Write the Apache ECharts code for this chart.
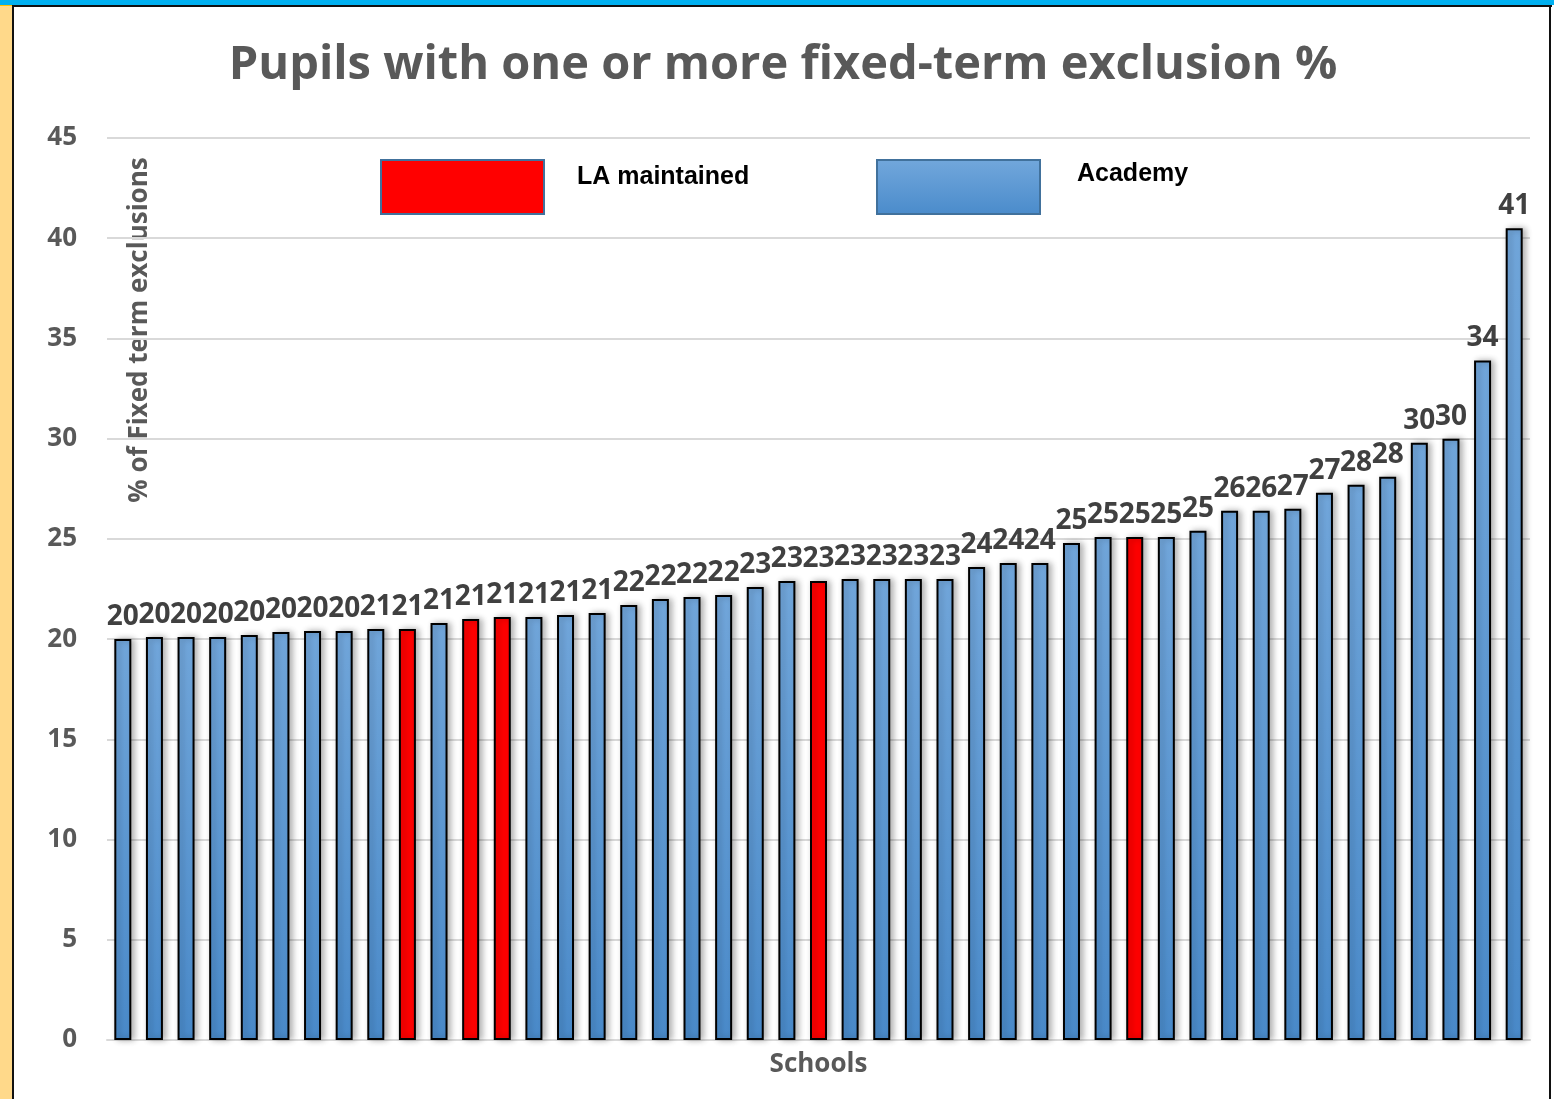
<!DOCTYPE html>
<html>
<head>
<meta charset="utf-8">
<style>
html,body{margin:0;padding:0;background:#fff;}
#chart{width:1554px;height:1099px;}
</style>
<script src="https://cdn.jsdelivr.net/npm/echarts@6/dist/echarts.min.js"></script>
</head>
<body>
<div id="chart"></div>
<script>
// Schools (ordered), values (%), and school type
const schools = Array.from({length:45}, (_, i) => 'School ' + (i + 1));
const values = [20.0,20.1,20.1,20.1,20.2,20.35,20.4,20.4,20.5,20.5,
                20.8,21.0,21.1,21.1,21.2,21.3,21.7,22.0,22.1,22.2,
                22.6,22.9,22.9,23.0,23.0,23.0,23.0,23.6,23.8,23.8,
                24.8,25.1,25.1,25.1,25.4,26.4,26.4,26.5,27.3,27.7,
                28.1,29.8,30.0,33.9,40.5];
// 'L' = LA maintained, 'A' = Academy
const types = ['A','A','A','A','A','A','A','A','A','L',
               'A','L','L','A','A','A','A','A','A','A',
               'A','A','L','A','A','A','A','A','A','A',
               'A','A','L','A','A','A','A','A','A','A',
               'A','A','A','A','A'];
const yTicks = [0,5,10,15,20,25,30,35,40,45];

const laData = values.map((v, i) => types[i] === 'L' ? v : '-');
const acData = values.map((v, i) => types[i] === 'A' ? v : '-');

const FONT = '"Open Sans", Lato, sans-serif';
const LEGFONT = '"Liberation Sans Narrow", "Liberation Sans", sans-serif';

const labelCfg = {
  show: true, position: 'top', distance: 8,
  color: '#404040', fontFamily: FONT, fontWeight: 'bold', fontSize: 28,
  formatter: p => Math.round(p.value)
};
const shadow = {shadowColor:'rgba(0,0,0,0.3)', shadowBlur:6, shadowOffsetX:3, shadowOffsetY:0};

function legendCfg(name, left, padBottom, padLeft) {
  return {
    data: [name], left: left, top: 159, padding: 0,
    itemWidth: 163, itemHeight: 54, icon: 'rect',
    itemStyle: {borderColor:'#41719C', borderWidth:2},
    formatter: '{t|{name}}',
    textStyle: {
      rich: {t: {color:'#000', fontFamily: LEGFONT, fontWeight:'bold', fontSize: 25,
                 padding:[0,0,padBottom,padLeft]}}
    }
  };
}

const chart = echarts.init(document.getElementById('chart'));
chart.setOption({
  backgroundColor: '#ffffff',
  animation: false,
  title: {
    text: 'Pupils with one or more fixed-term exclusion %',
    left: 778, top: 37, textAlign: 'center',
    textStyle: {color:'#595959', fontFamily: FONT, fontWeight:'bold', fontSize: 47}
  },
  legend: [
    legendCfg('LA maintained', 380, 20, 28),
    legendCfg('Academy', 876, 26, 32)
  ],
  grid: {left: 107, right: 24, top: 138, bottom: 59, containLabel: false},
  xAxis: {
    type: 'category', data: schools,
    name: 'Schools', nameLocation: 'middle', nameGap: 12,
    nameTextStyle: {color:'#595959', fontFamily: FONT, fontWeight:'bold', fontSize: 26},
    axisLine: {show: true, lineStyle: {color:'#d9d9d9', width: 2}},
    axisTick: {show: false},
    axisLabel: {show: false}
  },
  yAxis: {
    type: 'value', min: 0, max: 45, interval: 5,
    axisLine: {show: false}, axisTick: {show: false},
    axisLabel: {
      color:'#595959', fontFamily: FONT, fontWeight:'bold', fontSize: 26, margin: 30,
      formatter: v => yTicks.includes(v) ? String(v) : ''
    },
    splitLine: {lineStyle: {color:'#d9d9d9', width: 2}}
  },
  series: [
    {
      name: 'LA maintained', type: 'bar', stack: 'all', data: laData, barWidth: 17,
      itemStyle: Object.assign({color:'#FF0000', borderColor:'#000', borderWidth:2}, shadow),
      label: labelCfg
    },
    {
      name: 'Academy', type: 'bar', stack: 'all', data: acData, barWidth: 17,
      itemStyle: Object.assign({
        color: {type:'linear', x:0, y:0, x2:0, y2:1, colorStops:[
          {offset:0, color:'#72A7DC'}, {offset:1, color:'#4A8BCB'}]},
        borderColor:'#000', borderWidth:2
      }, shadow),
      label: labelCfg
    }
  ],
  graphic: [
    {type:'rect', left:0, top:0, shape:{width:12, height:1099}, style:{fill:'#FFD98A'}, z:-10},
    {type:'rect', left:0, top:0, shape:{width:1554, height:5}, style:{fill:'#00B0F0'}, z:-10},
    {type:'rect', left:0, top:5, shape:{width:12, height:1}, style:{fill:'#FFC000'}, z:-10},
    {type:'rect', left:12, top:5, shape:{width:1540, height:2}, style:{fill:'#111'}, z:-10},
    {type:'rect', left:12, top:5, shape:{width:2, height:1094}, style:{fill:'#111'}, z:-10},
    {type:'rect', left:1549, top:5, shape:{width:2, height:1094}, style:{fill:'#111'}, z:-10},
    {
      type:'text', x:140, y:330, rotation: Math.PI/2,
      style:{text:'% of Fixed term exclusions', fill:'#595959', font:'bold 26px ' + FONT,
             textAlign:'center', textVerticalAlign:'middle'}
    }
  ]
});
</script>
</body>
</html>
